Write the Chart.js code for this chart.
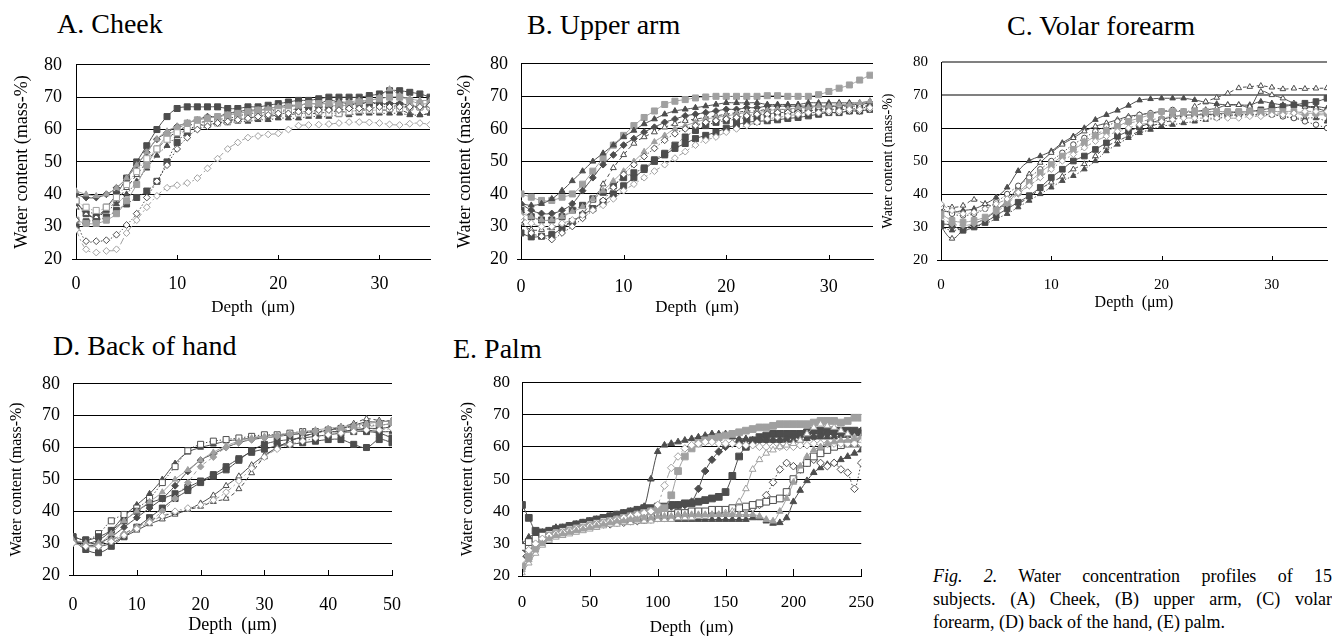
<!DOCTYPE html>
<html><head><meta charset="utf-8">
<script src="https://cdn.jsdelivr.net/npm/chart.js@4.4.1/dist/chart.umd.min.js"></script>
<style>
html,body{margin:0;padding:0;width:1332px;height:636px;overflow:hidden;background:#fff;}
body{position:relative;font-family:"Liberation Serif","Times New Roman",serif;color:#000;}
canvas{position:absolute;}
.ttl{position:absolute;font-size:28px;line-height:28px;white-space:nowrap;}
.cap{position:absolute;left:933px;width:399px;font-size:18px;line-height:23px;text-align:justify;}
.cap.j{text-align-last:justify;}
</style>
</head><body>
<div class="ttl" style="left:57px;top:10px">A. Cheek</div>
<div class="ttl" style="left:527px;top:11px">B. Upper arm</div>
<div class="ttl" style="left:1007px;top:12px">C. Volar forearm</div>
<div class="ttl" style="left:53px;top:332px">D. Back of hand</div>
<div class="ttl" style="left:453px;top:335px">E. Palm</div>
<div class="cap j" style="top:565px"><i>Fig. 2.</i> Water concentration profiles of 15</div>
<div class="cap j" style="top:588px">subjects. (A) Cheek, (B) upper arm, (C) volar</div>
<div class="cap" style="top:611px">forearm, (D) back of the hand, (E) palm.</div>
<script>
// ---------- DATA ----------
const yTicks = [20, 30, 40, 50, 60, 70, 80];

// A. Cheek
const cheekDepth = [0,1,2,3,4,5,6,7,8,9,10,11,12,13,14,15,16,17,18,19,20,21,22,23,24,25,26,27,28,29,30,31,32,33,34,35];
const cheekS1 = [38,34,33,36,40,45,50,55,60,64,66.5,67,67,67,67,66.5,66.5,67,67,67.5,68,68.5,69,69,69.5,70,70,70,70,70.5,71,72,72,71.5,71,70];
const cheekS2 = [29,23,22,22.5,23,28,32,36,39.5,42,42.8,43.5,45,48,51,54,56,57.5,58,58.5,58.8,60,61.2,61.4,61.5,61.7,62,62.3,62.3,62.2,62,61.6,61.4,61.8,62,61.5];
const cheekS3 = [32,25.5,25.5,25.8,27.5,30.5,34,39,44,49,54,57.5,60,61,62,62.5,63,63.5,64,64.5,65,65,65.5,65.5,66,66,66,66.5,66.5,66.5,67,67,67,67,67,67.5];
const cheekS4 = [41,40,39.5,40,42,45,49,53,57,59.5,61,62,63,63.5,64,64.5,65,65.5,66,66.5,67,67,67.5,68,68,68,68.5,68.5,69,69,70,72.5,70.5,69.5,69,69];
const cheekS5 = [40,39,39,40,42,45,49,53,57,59,61,62,63,64,64,65,65.5,66,66,66.5,67,67.5,67.5,68,68,69,68.5,68,68,68.5,68,68,68,67.5,67,67];
const cheekS6 = [32,31,31,32,34,38,43,49,54,58,60,62,63,63.5,64,64.5,65,65.5,66,66,66.5,67,67.5,68,68,68,67,68,68.5,69,69.5,70,70,69,68,68];
const cheekS7 = [30,31.5,32,33,35,37,39,41,44,50,56,59,61,62,63,63.5,64,65,65,65.5,66,66,66.5,67,67,67,67.5,67.5,68,68,68,67.5,67.5,67,67,67];
const cheekS8 = [36,34,33,35,38,42,46,50,54,57,59.5,61,62,62.5,62.5,63,63,63.5,64,64,64.5,64.5,65,65,65,65.5,65.5,65.5,66,66,66,66,66,65,64.5,65];
const cheekS9 = [38,36,35,36,39,43,47,51,54,57,59,60,61,61.5,62,62.5,63,63.5,64,65,65.5,65.5,65,65,65.5,65,65,65.5,66,66,66,66.5,66.5,67,67,67];
const cheekS10 = [37,35,34,35,37,40,44,48,52,55,58,60,61,61.5,62,62,62.5,62.5,63,63,63.5,63.5,63.5,64,64,64,64.5,64.5,65,65,65,65,65,64.5,64.5,65];

// B. Upper arm
const armDepth = [0,1,2,3,4,5,6,7,8,9,10,11,12,13,14,15,16,17,18,19,20,21,22,23,24,25,26,27,28,29,30,31,32,33,34];
const armS1 = [40,39,38,38,39,40,43,47,51,55,58,61,63.5,65.5,67.5,68.5,69,69.5,69.8,70,70,70,70,70,70.2,70.2,70,70,70,70.5,71.5,72.5,73.5,75,76.5];
const armS2 = [37,36.5,37,38.5,41,44,47,50,52.5,55,57.5,59.5,61.5,63,64.5,65.5,66,66.5,67,67.5,68,68,68,68,67.5,67.5,67.5,67.5,68,68,68,68,68,68,68.5];
const armS3 = [28,26.8,27,27.5,29.5,31.5,33.5,35.5,37.5,40,42.5,45,47.5,50,52,54,55.5,57,58,59,60.2,61.2,62,62.3,62.5,62.8,63.2,63.5,64,64.5,65,65,65.5,65.5,66];
const armS4 = [33,31,30,30,31,32,33.5,35,36.5,38.5,41,43,45,47,49,51,53,55,56.5,57.5,59,60,61,62,63,63.5,64,64.5,65,65,65.5,65.5,66,66,66.5];
const armS5 = [32,28,27,26,28,30,32.5,35,38,42,46,49,51.5,54,56.5,58.5,60,61,62,62.5,63,63.5,64,64.5,64.5,65,65,65,65,65,65,65,65.5,65.5,66];
const armS6 = [37,35,34,34,35,37,41,45,49,52,55,57,59,60.5,62,63,64,64.5,65,65.5,66,66,66.5,66.5,67,67,67,67,67,67,67,67,67.5,67.5,68];
const armS7 = [31,29,29,29.5,30.5,31.5,34,38,43,48,52,55.5,57.5,59,60.5,61.5,62.5,63,63.5,64,64.5,65,65.5,65.5,66,66,66,66.5,66.5,66.5,67,67,67,67,67];
const armS8 = [34,33,32,32,33,34.5,36,38.5,41,44,47,50,53,56,58,60,61,62,63,63.5,64,64.5,65,65,65.5,66,66,66.5,66.5,67,67,67.5,67.5,68,68.5];
const armS9 = [35,33,32,32,33,35,36.5,38.5,40.5,42.5,45,46.5,48,50.5,52.5,55,57.5,59.5,61,62,62.5,63,63.5,64,64.5,65,65,65.5,65.5,66,66,66,66,66.5,66.5];

// C. Volar forearm
const volarDepth = [0,1,2,3,4,5,6,7,8,9,10,11,12,13,14,15,16,17,18,19,20,21,22,23,24,25,26,27,28,29,30,31,32,33,34,35];
const volarS1 = [35,34.5,35,35.5,37,39,42,47,50,51.5,53,55.5,57.5,60,62.5,64,65.3,66.8,68.4,68.8,69,69,69,68.5,67.8,67.3,67,67,67,68,67.5,67,67,66.5,66.5,66];
const volarS2 = [37,36,36.5,38.3,37,36.2,36.5,37.2,39,41.5,43.5,45.3,47.5,49.1,51.5,54.4,56,57.6,59,60.5,61.5,62.4,64,66.5,68,69.2,70.5,72.1,72.5,72.8,72.3,71.8,72,71.9,72,72.1];
const volarS3 = [30,26.5,29,31,32.5,35,38,42,46,49.5,52.5,55,57,59,60.5,61.5,62.5,63.5,64,64.5,65,65,65,65,65.5,66,67,67,66.5,71,70,69,67.5,66.5,66,65];
const volarS4 = [30,29,29.5,30,31,32.5,34,36,38,40,42,44,45.5,47.5,50,53,55,57,58.5,59.5,60.5,61,61.5,62,62.5,63,63.5,64,64,64,64,63.5,63,63,63,62];
const volarS5 = [33,31,30.5,31,32.5,34.5,37,40,42.5,45,48,51,53.5,56,58,59.5,60.5,61.5,62,62.5,63,63.5,64,64,64.5,64.5,64.5,64.5,64.5,64.5,64.5,64.5,64.5,64,64,64];
const volarS6 = [31,30.5,29,30,31.5,33.5,35.5,37.5,39.5,42,45,47.5,50,51.5,53.5,55.5,57.5,59,60.3,61.5,62.5,63.4,63.8,64,64,64.3,64.5,64.8,65,65.5,66,66.5,67,67.5,68,69];
const volarS7 = [34,32,31.5,32,33,35,37.5,40.5,43.5,46.5,49,51.5,53.5,55.5,57.5,59,60.5,62,63,64,65,65,65,65,65,65,65,65,65,65,65,65,65,64.5,64.5,64.5];
const volarS8 = [36,34,33.5,34,35.5,37.5,40,42.5,45,47.5,50,52.5,55,57,59,60.5,62,63,64,64.5,65,65.5,65,64.5,64,64,64,64,64,64,64,63.5,63,62,61,60];
const volarS9 = [37,35,34,34.5,35.5,37,38.5,40.5,42.5,45,47.5,50,52,54,56,57.5,59,60,61,61.5,62,62.5,63,63,63,63,63,63,63.5,63.5,64,64,64.5,65,65,65];

// D. Back of hand
const handDepth = [0,2,4,6,8,10,12,14,16,18,20,22,24,26,28,30,32,34,36,38,40,42,44,46,48,50];
const handS1 = [31,30,31,34,38.5,42,45.5,50,55,58.5,60,61,62,62.5,63,63.5,64,64,64.5,65,65,65,65.5,65.5,65,65];
const handS2 = [32,31,33,37,39,41,44,49,54,59,61,62,62.5,63,63.5,64,64,64.5,65,65,65.5,66,66.5,67,67,67.5];
const handS3 = [31,29,30,32,35,38,41,44,48,52.5,56,58,60,61.5,62.5,63,63.5,64,64.5,65,65,65,65.5,66,66,66.5];
const handS4 = [30,29,29.5,31,33,35,37,40,44,49,54,57,60,61.5,62.5,63,63.5,64,64.5,65,65,65.5,66,66.5,67,67.5];
const handS5 = [32,31,32,34,37,40,42.5,44,45.5,47.5,49.5,51.5,54,56.5,58.5,59.5,60.5,61,61.5,62,62.5,62.5,61,60,62.5,61.5];
const handS6 = [31,28,27,29,32,35,38,41,44,46.5,49,51,53,56,59,61,62,62.5,63,63.5,64,64.5,65,65,64.5,63];
const handS7 = [31,29.5,29,30,32,34,36,37.5,39,40.5,42.5,45,48,51,54.5,57.5,60,62,63.5,64.5,65.5,66,67,68,68,68.5];
const handS8 = [30,29,29,30.5,32.5,34.5,36.5,38.5,40,41,42,43.5,46,49.5,53.5,57,59.5,61,62,63,64,64.5,65,65.5,65.5,66];
const handS9 = [31,30,30,31,33,35,37,38.5,39.5,40.5,41.5,43,44,47,52,57,60,62,63.5,64.5,65.5,66.5,67.5,69,68.5,68.5];
const handS10 = [31,30,30,33,37,40,43,46,50,53,56,58.5,60.5,62,63,63.5,64,64.5,65,65.5,66,66.5,67,67.5,68,68.5];

// E. Palm
const palmDepth = [0,5,10,15,20,25,30,35,40,45,50,55,60,65,70,75,80,85,90,95,100,105,110,115,120,125,130,135,140,145,150,155,160,165,170,175,180,185,190,195,200,205,210,215,220,225,230,235,240,245,250];
const palmS1 = [30,32,33,33.5,34,35,35,35.5,36,36.5,37,37.5,38,38.5,39,39.5,40,40.5,41.5,50,58.5,60.5,61,61.5,62,62.5,63,63.5,64,64,64,63,62.5,62.5,62,62,62,62,62,62,62,62,62.5,63,63,63,63,63.5,63.5,64,64];
const palmS2 = [25,28,30,31.5,32.5,33,33.5,34,34.5,35,35.5,36,36.5,37,37.5,38,38.5,39,39.5,40,42,48,53.5,57,59.5,60.5,61,61.5,61.5,61,61,61,60.5,60.5,60.5,60,60,60,60,60,60,60.5,60.5,61,61,61,61,61,61,61,61];
const palmS3 = [23,26,29,31,32.5,33,33.5,34,34.5,35,35.5,36,36.5,37,37.5,38,38.5,39,39.5,40,40.5,41,45,52.5,57,59.5,61,62,62.5,63,63.5,64,64.5,65,65.5,66,66,66.5,67,67,67,67,67,67.5,68,68,68,67.5,68,69,69];
const palmS4 = [28,30,31.5,32.5,33,33.5,34,34.5,35,35.5,36,36.5,37,37.5,38,38.5,39,39.5,40,40.5,41,41,41.5,42,42,43,47,52.5,56,58.5,60,61,61.5,62,62,62,62,62,62,62.5,63,63,63,63,63.5,64,64,64,64,64.5,65];
const palmS5 = [42,38,34,33.5,34,34.5,35,35.5,36,36.5,37,37.5,38,38.5,39,39.5,40,40.5,41,41,41.5,41.5,42,42,42.5,42.5,43,43.5,44,44.5,46,51,57,60,62,63,63.5,64,64,64,64,64,64.5,65,65,65,65,65,65,65,64.5];
const palmS6 = [21,24,27,29.5,31,32,32.5,33,33.5,34,34.5,35,35.5,36,36,36.5,36.5,37,37,37,37.5,37.5,37.5,38,38,38,38.5,38.5,39,39,39.5,40,43,47,53,56,58,59,60,60.5,61,62,64,66,67,66.5,66,65,64,63,62];
const palmS7 = [27,29,30.5,31.5,32.5,33,33.5,34,34.5,35,35.5,35.5,36,36,36.5,36.5,37,37,37.5,37.5,38,38,38,38.5,38.5,39,39,39,39.5,39.5,40,40,40.5,40.5,41,42,45,49,53,55,54,53,55,56,55,54,55,53,52,47,55];
const palmS8 = [26,29,31,32,33,33.5,34,34.5,35,35.5,35.5,36,36,36.5,36.5,37,37,37,37,37.5,37.5,37.5,37.5,37.5,37.5,37.5,37.5,37.5,37.5,37.5,37.5,37.5,37.5,37.5,38,38,37,36.3,36.5,38,43,46.5,49.5,52,53.5,54.5,55,56,57,58,59];
const palmS9 = [29,30.5,31.5,32.5,33,33.5,34,34.5,35,35.5,36,36.5,37,37,37.5,37.5,38,38,38.5,38.5,39,39,39,39.5,39.5,40,40,40,40.5,40.5,40.5,41,41,41.5,42,42.5,43,43.5,44,46,50,53,55,57,58,59,60,60.5,61,61,61];
const palmS10 = [22,25,28,30,31.5,32.5,33,33.5,34,34.5,35,35.5,36,36.5,37,37,37.5,37.5,38,38,38.5,38.5,38.5,39,39,39,39,39,39,39,39,39,39,39,39,38.5,37.5,37,40,44,49,54,57,59,60,61,61.5,62,62,62.5,63];

// ---------- STYLES ----------
const DARK = '#4d4d4d', LIGHT = '#a0a0a0';
const DOT = [1.5, 2], DASH = [4, 3], DASHDOT = [7, 3, 2, 3];
// [colour, marker, filled, dash]
const STYLES = [
  [DARK, 'rect', true, []],        // 0
  [DARK, 'triangle', true, []],    // 1
  [DARK, 'rectRot', true, []],     // 2
  [DARK, 'rectRot', false, DOT],   // 3
  [DARK, 'rect', true, DOT],       // 4
  [DARK, 'triangle', false, DASH], // 5
  [LIGHT, 'rect', true, []],       // 6
  [LIGHT, 'triangle', true, []],   // 7
  [LIGHT, 'rectRot', false, DASHDOT], // 8
  [LIGHT, 'rect', false, DOT],     // 9
  [DARK, 'triangle', true, DOT],   // 10
  [DARK, 'triangle', false, []],   // 11
  [LIGHT, 'rectRot', true, DASH],  // 12
  [DARK, 'rect', false, []],       // 13
  [DARK, 'circle', false, DOT],    // 14
  [DARK, 'rect', false, DOT],      // 15
  [LIGHT, 'triangle', false, []]   // 16
];

const SERIF = '"Liberation Serif", "Times New Roman", serif';

const innerTicks = {
  id: 'innerTicks',
  afterDraw(chart, args, opts) {
    const {ctx, chartArea: a, scales: {x}} = chart;
    ctx.save();
    ctx.strokeStyle = '#000';
    ctx.lineWidth = 1;
    ctx.beginPath();
    x.ticks.forEach(t => {
      const px = Math.round(x.getPixelForValue(t.value)) + 0.5;
      ctx.moveTo(px, a.bottom);
      ctx.lineTo(px, a.bottom - opts.len);
    });
    ctx.moveTo(a.left - 4, Math.round(a.bottom) + 0.5);
    ctx.lineTo(a.left, Math.round(a.bottom) + 0.5);
    ctx.stroke();
    ctx.restore();
  }
};

function makeDataset(values, depth, styleIdx, radius, monotone) {
  const [col, marker, filled, dash] = STYLES[styleIdx];
  const r = marker === 'rect' ? radius * 1.25 : (marker === 'circle' ? radius * 0.85 : radius);
  return {
    data: depth.map((d, i) => ({x: d, y: values[i]})),
    borderColor: col,
    backgroundColor: filled ? col : '#fff',
    pointBorderColor: col,
    pointBackgroundColor: filled ? col : '#fff',
    pointStyle: marker,
    pointRadius: r,
    pointBorderWidth: 1,
    borderWidth: 1,
    borderDash: dash,
    tension: 0.4,
    cubicInterpolationMode: monotone ? 'monotone' : 'default',
    fill: false
  };
}

const panels = [
  {box: [0, 40, 445, 280], pad: {top: 12, right: 15, bottom: 0, left: 0}, yW: 76, xH: 61,
   xMax: 35, xStep: 10, depth: cheekDepth,
   series: [[cheekS2, 8], [cheekS3, 3], [cheekS9, 9], [cheekS6, 6], [cheekS4, 7], [cheekS10, 10], [cheekS8, 5], [cheekS7, 4], [cheekS5, 2], [cheekS1, 0]],
   yTick: [18, 14], yTitle: [18, 11], xTick: [18, 14], xTitle: [17, 2], tick: 4, r: 3.4},
  {box: [445, 40, 440, 280], pad: {top: 13, right: 12, bottom: 0, left: 0}, yW: 76, xH: 61,
   xMax: 34.3, xStep: 10, depth: armDepth,
   series: [[armS4, 8], [armS5, 3], [armS8, 7], [armS7, 5], [armS9, 4], [armS6, 2], [armS3, 0], [armS2, 1], [armS1, 6]],
   yTick: [18, 13], yTitle: [18, 9], xTick: [18, 17], xTitle: [17, 2], tick: 4, r: 3.4},
  {box: [878, 40, 454, 280], pad: {top: 13, right: 5, bottom: 0, left: 0}, yW: 63, xH: 60,
   xMax: 35, xStep: 10, depth: volarDepth, grayTop: true,
   series: [[volarS9, 8], [volarS5, 12], [volarS7, 6], [volarS8, 14], [volarS4, 10], [volarS6, 0], [volarS3, 11], [volarS2, 5], [volarS1, 1]],
   yTick: [15, 13], yTitle: [14, 1.6], xTick: [15, 16], xTitle: [16, 7.4], tick: 4, r: 3.2},
  {box: [0, 360, 420, 280], pad: {top: 13, right: 24, bottom: 0, left: 0}, yW: 73, xH: 65,
   xMax: 50, xStep: 10, depth: handDepth,
   series: [[handS8, 8], [handS4, 12], [handS10, 7], [handS9, 5], [handS7, 11], [handS6, 0], [handS5, 0], [handS3, 2], [handS2, 15], [handS1, 1]],
   yTick: [18, 13], yTitle: [16, 7.4], xTick: [18, 19], xTitle: [18, 4], tick: 5, r: 3.4},
  {box: [445, 360, 445, 280], pad: {top: 14, right: 20, bottom: 0, left: 0}, yW: 77, xH: 64,
   xMax: 250, xStep: 50, depth: palmDepth, monotone: true,
   series: [[palmS10, 7], [palmS6, 16], [palmS2, 8], [palmS3, 6], [palmS9, 13], [palmS7, 3], [palmS8, 1], [palmS4, 2], [palmS5, 0], [palmS1, 1]],
   yTick: [17, 12], yTitle: [16, 13.4], xTick: [17, 16], xTitle: [17, 1.8], tick: 7, r: 3.8}
];

panels.forEach(p => {
  const c = document.createElement('canvas');
  const [l, t, w, h] = p.box;
  c.width = w; c.height = h;
  c.style.left = l + 'px'; c.style.top = t + 'px';
  c.style.width = w + 'px'; c.style.height = h + 'px';
  document.body.appendChild(c);
  const datasets = p.series.map(([vals, st]) => makeDataset(vals, p.depth, st, p.r, p.monotone));
  new Chart(c, {
    type: 'line',
    data: {datasets},
    plugins: [innerTicks],
    options: {
      responsive: false,
      animation: false,
      events: [],
      layout: {padding: p.pad},
      plugins: {legend: {display: false}, tooltip: {enabled: false}, innerTicks: {len: p.tick}},
      scales: {
        x: {
          type: 'linear', min: 0, max: p.xMax,
          afterFit(s) { s.height = p.xH; },
          grid: {display: false, drawTicks: false},
          border: {display: true, color: '#000', width: 1},
          ticks: {stepSize: p.xStep, includeBounds: false, autoSkip: false, maxRotation: 0,
                  color: '#000', font: {family: SERIF, size: p.xTick[0]}, padding: p.xTick[1]},
          title: {display: true, text: 'Depth  (\u03bcm)', color: '#000',
                  font: {family: SERIF, size: p.xTitle[0]}, padding: {top: 0, bottom: p.xTitle[1]}}
        },
        y: {
          type: 'linear', min: yTicks[0], max: yTicks[yTicks.length - 1],
          afterFit(s) { s.width = p.yW; },
          afterBuildTicks(s) { s.ticks = yTicks.map(v => ({value: v})); },
          grid: {
            drawTicks: false,
            color: ctx => (p.grayTop && ctx.tick && ctx.tick.value >= 70) ? '#808080' : '#000',
            lineWidth: ctx => (p.grayTop && ctx.tick && ctx.tick.value >= 70) ? 2 : 1
          },
          border: {display: true, color: '#000', width: 1},
          ticks: {color: '#000', font: {family: SERIF, size: p.yTick[0]}, padding: p.yTick[1]},
          title: {display: true, text: 'Water content (mass-%)', color: '#000',
                  font: {family: SERIF, size: p.yTitle[0]}, padding: {top: p.yTitle[1], bottom: 0}}
        }
      }
    }
  });
});
</script>
</body></html>
